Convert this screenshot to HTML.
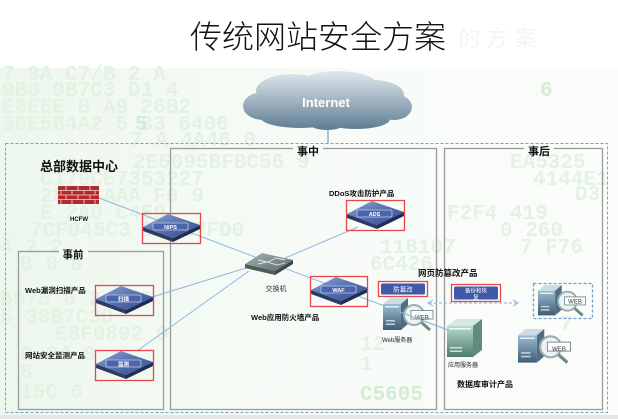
<!DOCTYPE html>
<html><head><meta charset="utf-8"><style>
html,body{margin:0;padding:0;background:#fff;}
svg{display:block;}
text{font-family:"Liberation Sans","Noto Sans CJK SC",sans-serif;}
.hex{font-family:"Liberation Mono",monospace;font-weight:bold;font-size:21px;fill:#e3f2e3;}
.hex2{font-family:"Liberation Mono",monospace;font-weight:bold;font-size:21px;fill:#d3ecd3;}
.lb{font-weight:bold;fill:#111;}
</style></head><body>
<svg width="618" height="419" viewBox="0 0 618 419" xmlns="http://www.w3.org/2000/svg">
<defs>
<linearGradient id="bg" x1="0" y1="0" x2="1" y2="0">
<stop offset="0" stop-color="#edf7ed"/><stop offset="0.5" stop-color="#f7fbf7"/><stop offset="1" stop-color="#fbfdfb"/>
</linearGradient>
<linearGradient id="cloud" gradientUnits="userSpaceOnUse" x1="0" y1="71" x2="0" y2="131">
<stop offset="0" stop-color="#e2e8ed"/><stop offset="0.45" stop-color="#a6b8c6"/><stop offset="1" stop-color="#5c7a90"/>
</linearGradient>
<linearGradient id="dev" x1="0" y1="0" x2="1" y2="1">
<stop offset="0" stop-color="#8fa6d4"/><stop offset="0.5" stop-color="#5670b0"/><stop offset="1" stop-color="#34498c"/>
</linearGradient>
<linearGradient id="sw" x1="0" y1="0" x2="1" y2="1">
<stop offset="0" stop-color="#a5b2b2"/><stop offset="1" stop-color="#5c6a6a"/>
</linearGradient>
<linearGradient id="srvb" x1="0" y1="0" x2="0" y2="1">
<stop offset="0" stop-color="#9dbbd0"/><stop offset="1" stop-color="#3f5e76"/>
</linearGradient>
<linearGradient id="srvg" x1="0" y1="0" x2="0" y2="1">
<stop offset="0" stop-color="#b8d8cc"/><stop offset="1" stop-color="#4d7c6e"/>
</linearGradient>
<g id="appl">
<polygon points="1,14 31,25 31,29 1,18" fill="#2c3b66"/>
<polygon points="31,25 58,12 58,16 31,29" fill="#1f2c55"/>
<polygon points="1,14 26,1 58,12 31,25" fill="url(#dev)"/>
<rect x="11" y="10" width="35" height="7" rx="1.5" fill="#4c65aa" stroke="#b9c9ea" stroke-width="0.8"/>
</g>
<g id="srv">
<rect x="0" y="6" width="18" height="26" fill="url(#srvb)"/>
<polygon points="0,6 7,0 25,0 18,6" fill="#cddbe5"/>
<polygon points="18,6 25,0 25,26 18,32" fill="#4f6e86"/>
<rect x="2" y="8" width="14" height="1.5" fill="#d8f2ff"/>
<rect x="3" y="22" width="9" height="1.5" fill="#c3d3de"/>
<rect x="3" y="25.5" width="9" height="1.5" fill="#c3d3de"/>
<line x1="38" y1="24" x2="47" y2="32" stroke="#6a8a7e" stroke-width="3"/>
<circle cx="31" cy="17" r="10" fill="#eef2f3" stroke="#98aaae" stroke-width="2"/>
<rect x="28" y="12.5" width="22" height="8.5" fill="#fff" stroke="#5f7f7f" stroke-width="0.8"/>
</g>
</defs>

<rect x="0" y="0" width="618" height="419" fill="#fff"/>
<rect x="0" y="68" width="618" height="348" fill="url(#bg)"/>

<!-- faint hex background -->
<g>
<text class="hex" x="2" y="80">7   9A  C7/B 2  A</text>
<text class="hex" x="2" y="96">9B0 9B7C3 D1  4</text>
<text class="hex2" x="540" y="96">6</text>
<text class="hex" x="2" y="113">E8EEE B A9 26B2</text>
<text class="hex" x="2" y="130">36E5B4A2 5  83 6406</text>
<text class="hex2" x="135" y="130">5</text>
<text class="hex" x="130" y="146">7   A  4A46  0</text>
<text class="hex" x="133" y="168">2E5095BFBC56 9</text>
<text class="hex" x="510" y="168">EA5325</text>
<text class="hex" x="40" y="185">C179CE7353227</text>
<text class="hex" x="533" y="185">4144E1</text>
<text class="hex" x="40" y="202">28 B AAA   F0 9</text>
<text class="hex" x="575" y="200">D3</text>
<text class="hex" x="40" y="219">E 2A0     C4E9</text>
<text class="hex" x="447" y="219">F2F4  419</text>
<text class="hex" x="30" y="236">7CF045C3  B 4E7FD0</text>
<text class="hex" x="500" y="236">0 260</text>
<text class="hex" x="0" y="253">4  2  2</text>
<text class="hex" x="380" y="253">118107</text>
<text class="hex" x="520" y="253">7 F76</text>
<text class="hex" x="20" y="270">B  0  8</text>
<text class="hex" x="370" y="270">6C426</text>
<text class="hex" x="0" y="305">B975 8   2   7  C</text>
<text class="hex" x="0" y="323">5   38B7C3D</text>
<text class="hex" x="55" y="340">E8F0892 9</text>
<text class="hex" x="20" y="360">D  C4   9</text>
<text class="hex" x="20" y="378">8</text>
<text class="hex" x="20" y="398">15C  6</text>
<text class="hex" x="360" y="350">12</text>
<text class="hex" x="360" y="370">1</text>
<text class="hex2" x="360" y="400">C5605</text>
<text class="hex" x="560" y="330">7</text>
</g>

<!-- title -->
<text x="190" y="48" font-size="32" fill="#111" style="font-weight:300">传统网站安全方案</text>
<text x="458" y="46" font-size="22" fill="#f4f4f4">的 方 案</text>

<!-- outer dashed -->
<rect x="5.5" y="143.5" width="602" height="269" fill="none" stroke="#7f9fbf" stroke-width="1" stroke-dasharray="3,2"/>
<rect x="0" y="415" width="618" height="4" fill="#e6e6e6"/>

<!-- cloud -->
<line x1="328" y1="128" x2="328" y2="143" stroke="#6fa0d8" stroke-width="1.2"/>
<g fill="url(#cloud)">
<ellipse cx="327" cy="104" rx="76" ry="19"/>
<ellipse cx="292" cy="91" rx="36" ry="17"/>
<ellipse cx="338" cy="86" rx="40" ry="15"/>
<ellipse cx="374" cy="95" rx="30" ry="15"/>
<ellipse cx="263" cy="106" rx="20" ry="14"/>
<ellipse cx="394" cy="107" rx="18" ry="13"/>
<ellipse cx="300" cy="117" rx="40" ry="11"/>
<ellipse cx="356" cy="119" rx="34" ry="10"/>
<ellipse cx="327" cy="123" rx="18" ry="7"/>
</g>
<text x="326" y="107" font-size="13" font-weight="bold" fill="#fff" text-anchor="middle">Internet</text>

<!-- phase boxes -->
<rect x="170.5" y="148.5" width="266" height="261" fill="none" stroke="#9a9a9a" stroke-width="1.3"/>
<rect x="444.5" y="148.5" width="158" height="261" fill="none" stroke="#9a9a9a" stroke-width="1.3"/>
<rect x="18.5" y="251.5" width="145" height="158" fill="none" stroke="#9a9a9a" stroke-width="1.3"/>
<rect x="293" y="144" width="30" height="10" fill="#fafdfa"/>
<rect x="524" y="144" width="30" height="10" fill="#fafdfa"/>
<rect x="59" y="247" width="29" height="10" fill="#f6fbf6"/>
<text class="lb" x="308" y="155" font-size="11" text-anchor="middle">事中</text>
<text class="lb" x="539" y="155" font-size="11" text-anchor="middle">事后</text>
<text class="lb" x="73" y="258" font-size="10.5" text-anchor="middle">事前</text>

<!-- connectors -->
<g stroke="#8db8e2" stroke-width="1" fill="none">
<line x1="99" y1="198" x2="448" y2="330"/>
<line x1="285" y1="258" x2="358" y2="227"/>
<line x1="246" y1="268" x2="149" y2="298"/>
<line x1="249" y1="271" x2="137" y2="351"/>
</g>

<!-- HQ -->
<text class="lb" x="40" y="171" font-size="13">总部数据中心</text>
<rect x="58" y="186" width="41" height="18" fill="#b3282d"/>
<g stroke="#f4d6d6" stroke-width="0.8">
<line x1="58" y1="190.5" x2="99" y2="190.5"/><line x1="58" y1="195" x2="99" y2="195"/><line x1="58" y1="199.5" x2="99" y2="199.5"/>
<line x1="66" y1="186" x2="66" y2="190.5"/><line x1="78" y1="186" x2="78" y2="190.5"/><line x1="90" y1="186" x2="90" y2="190.5"/>
<line x1="61" y1="190.5" x2="61" y2="195"/><line x1="72" y1="190.5" x2="72" y2="195"/><line x1="84" y1="190.5" x2="84" y2="195"/><line x1="95" y1="190.5" x2="95" y2="195"/>
<line x1="66" y1="195" x2="66" y2="199.5"/><line x1="78" y1="195" x2="78" y2="199.5"/><line x1="90" y1="195" x2="90" y2="199.5"/>
<line x1="61" y1="199.5" x2="61" y2="204"/><line x1="72" y1="199.5" x2="72" y2="204"/><line x1="84" y1="199.5" x2="84" y2="204"/><line x1="95" y1="199.5" x2="95" y2="204"/>
</g>
<text class="lb" x="79" y="221" font-size="6" text-anchor="middle">HCFW</text>

<!-- NIPS -->
<use href="#appl" x="142" y="213"/>
<text x="170.5" y="229" font-size="5.5" fill="#fff" text-anchor="middle" font-weight="bold">NIPS</text>
<rect x="142.5" y="213.5" width="58" height="30" fill="none" stroke="#e8474a" stroke-width="1.3"/>

<!-- pre-event devices -->
<text class="lb" x="25" y="293" font-size="7.5">Web漏洞扫描产品</text>
<use href="#appl" x="95" y="285"/>
<text x="123.5" y="301" font-size="5.5" fill="#fff" text-anchor="middle" font-weight="bold">扫描</text>
<rect x="95.5" y="285.5" width="58" height="30" fill="none" stroke="#e8474a" stroke-width="1.3"/>

<text class="lb" x="25" y="358" font-size="7.5">网站安全监测产品</text>
<use href="#appl" x="95" y="350"/>
<text x="123.5" y="366" font-size="5.5" fill="#fff" text-anchor="middle" font-weight="bold">监测</text>
<rect x="95.5" y="350.5" width="58" height="30" fill="none" stroke="#e8474a" stroke-width="1.3"/>

<!-- switch -->
<polygon points="245,264 275,271 275,275 245,268" fill="#4f5c5c"/>
<polygon points="275,271 293,260 293,264 275,275" fill="#3c4848"/>
<polygon points="245,264 262,253 293,260 275,271" fill="url(#sw)"/>
<g stroke="#dfe6e6" stroke-width="0.9" fill="none">
<path d="M258,260 L268,262 L276,258 L285,260"/>
<path d="M258,264 L267,262 L277,265 L285,263"/>
</g>
<text x="276" y="291" font-size="7" fill="#333" text-anchor="middle">交换机</text>

<!-- ADS -->
<text class="lb" x="329" y="196" font-size="7.5">DDoS攻击防护产品</text>
<use href="#appl" x="346" y="200"/>
<text x="374.5" y="216" font-size="5.5" fill="#fff" text-anchor="middle" font-weight="bold">ADS</text>
<rect x="346.5" y="200.5" width="58" height="30" fill="none" stroke="#e8474a" stroke-width="1.3"/>

<!-- WAF -->
<use href="#appl" x="310" y="276"/>
<text x="338.5" y="292" font-size="5.5" fill="#fff" text-anchor="middle" font-weight="bold">WAF</text>
<rect x="310.5" y="276.5" width="57" height="30" fill="none" stroke="#e8474a" stroke-width="1.3"/>
<text class="lb" x="251" y="320" font-size="7.5">Web应用防火墙产品</text>

<!-- anti-tamper -->
<text class="lb" x="418" y="276" font-size="8.5">网页防篡改产品</text>
<rect x="378.5" y="281.5" width="49" height="15" fill="none" stroke="#e8474a" stroke-width="1.3"/>
<rect x="381" y="283.5" width="44" height="11" rx="1.5" fill="#3f58a8"/>
<text x="403" y="291.5" font-size="6.5" fill="#fff" text-anchor="middle">防篡改</text>

<rect x="451.5" y="284.5" width="49" height="17" fill="none" stroke="#e8474a" stroke-width="1.3"/>
<rect x="454" y="286.5" width="44" height="13" rx="1.5" fill="#3f58a8"/>
<text x="476" y="292.5" font-size="5.5" fill="#fff" text-anchor="middle">备份和恢</text>
<text x="476" y="299" font-size="5.5" fill="#fff" text-anchor="middle">复</text>

<!-- dashed arrow -->
<line x1="429" y1="303" x2="517" y2="303" stroke="#9cc0e0" stroke-width="1.2" stroke-dasharray="3,2"/>
<polyline points="433,300 428,303 433,306" fill="none" stroke="#9cc0e0" stroke-width="1.2"/>
<polyline points="513,300 518,303 513,306" fill="none" stroke="#9cc0e0" stroke-width="1.2"/>

<!-- web server -->
<use href="#srv" x="383" y="298"/>
<text x="422" y="319.5" font-size="6" fill="#333" text-anchor="middle">WEB</text>
<text x="382" y="342" font-size="6" fill="#222">Web服务器</text>

<!-- main line over web server -->
<line x1="400" y1="312" x2="448" y2="330" stroke="#8db8e2" stroke-width="1"/>

<!-- app server -->
<g transform="translate(447,319)">
<rect x="0" y="7" width="26" height="31" fill="url(#srvg)"/>
<polygon points="0,7 9,0 35,0 26,7" fill="#d4e8e0"/>
<polygon points="26,7 35,0 35,31 26,38" fill="#5f8c7e"/>
<rect x="2" y="9" width="22" height="1.5" fill="#e4fff4"/>
<rect x="3" y="28" width="12" height="1.5" fill="#cfe2da"/>
<rect x="3" y="31.5" width="12" height="1.5" fill="#cfe2da"/>
</g>
<text x="448" y="367" font-size="6" fill="#222">应用服务器</text>

<!-- backup servers -->
<rect x="533.5" y="283.5" width="59" height="35" fill="none" stroke="#7a9acc" stroke-width="1.3" stroke-dasharray="3,2"/>
<g transform="translate(538,285) scale(0.95)"><use href="#srv"/></g>
<text x="575" y="303.5" font-size="6" fill="#333" text-anchor="middle">WEB</text>

<g transform="translate(518,329) scale(1.05)"><use href="#srv"/></g>
<text x="559" y="351" font-size="6" fill="#333" text-anchor="middle">WEB</text>

<text class="lb" x="457" y="387" font-size="8">数据库审计产品</text>
</svg>
</body></html>
